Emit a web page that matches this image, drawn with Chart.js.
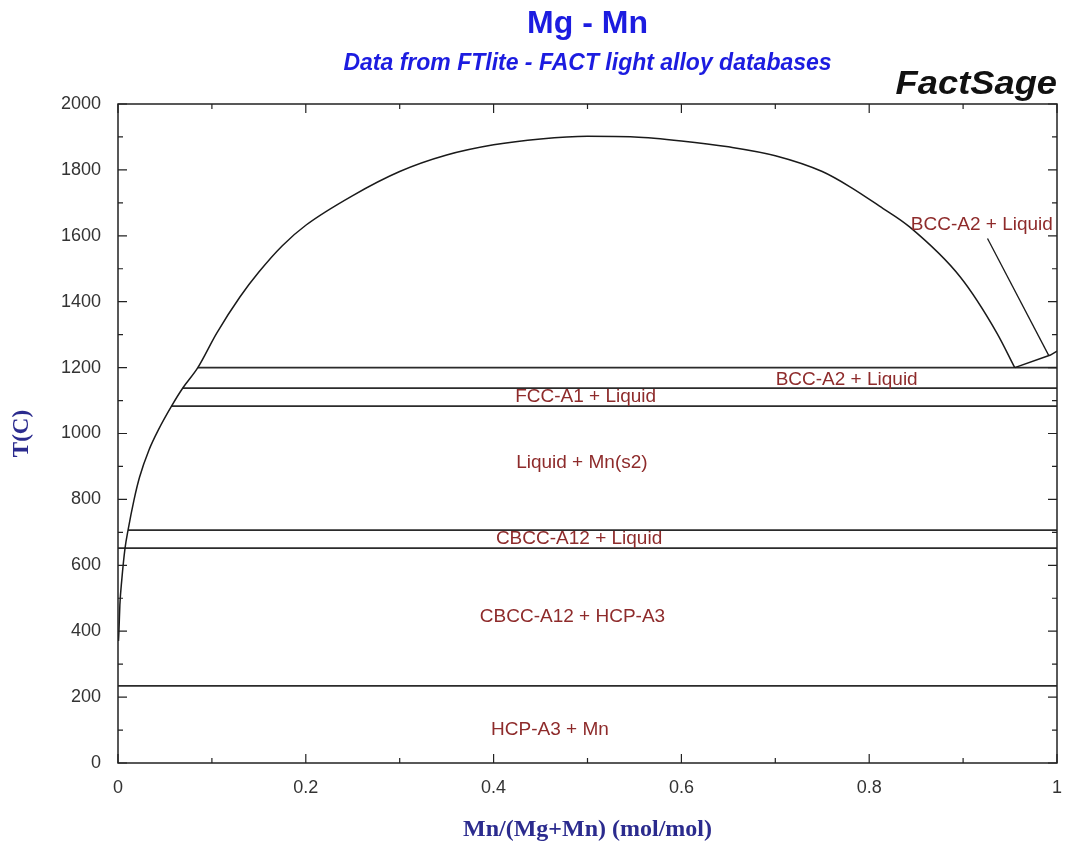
<!DOCTYPE html>
<html>
<head>
<meta charset="utf-8">
<title>Mg - Mn</title>
<script src="https://cdn.jsdelivr.net/npm/chart.js@4.4.1/dist/chart.umd.min.js"></script>
<style>
  html, body { margin: 0; padding: 0; background: #ffffff; }
  #wrap { width: 1068px; height: 845px; position: relative; }
</style>
</head>
<body>
<div id="wrap"><canvas id="diagram"></canvas></div>
<script>
// Mg–Mn phase diagram, composition Mn/(Mg+Mn) against temperature in °C.

// Liquidus on the Mg side running up and over the liquid miscibility dome
const liquidusX = [0.0005, 0.001, 0.002, 0.004, 0.0075, 0.0107, 0.017, 0.023, 0.033, 0.043, 0.057, 0.069, 0.085,
                   0.105, 0.13, 0.15, 0.175, 0.2, 0.25, 0.3, 0.35, 0.4, 0.45, 0.5, 0.55, 0.6, 0.65,
                   0.7, 0.75, 0.78, 0.811, 0.843, 0.897, 0.936, 0.955];
const liquidusT = [370, 400, 480, 555, 652, 707, 798, 868, 950, 1011, 1083, 1138, 1200,
                   1304, 1415, 1490, 1570, 1632, 1722, 1795, 1845, 1876, 1894, 1902, 1900, 1888, 1870,
                   1843, 1795, 1748, 1690, 1627, 1475, 1305, 1200];

// Boundary of the narrow BCC-A2 + Liquid field next to pure Mn
const bccBoundaryX = [0.955, 0.993, 1];
const bccBoundaryT = [1200, 1238, 1250];

// Leader from the upper label down to that narrow field
const leaderX = [0.926, 0.991];
const leaderT = [1592, 1238];

// Invariant (horizontal) reaction lines
const invariantT    = [1200, 1138, 1083, 707, 652, 234];
const invariantFrom = [0.085, 0.069, 0.057, 0.0107, 0, 0];
const invariantTo   = [1, 1, 1, 1, 1, 1];

// Phase-field labels and where they sit (composition, temperature)
const fieldNames = ['BCC-A2 + Liquid', 'BCC-A2 + Liquid', 'FCC-A1 + Liquid', 'Liquid + Mn(s2)',
                    'CBCC-A12 + Liquid', 'CBCC-A12 + HCP-A3', 'HCP-A3 + Mn'];
const fieldX = [0.92, 0.776, 0.498, 0.494, 0.491, 0.484, 0.46];
const fieldT = [1633, 1162, 1112, 910, 680, 444, 100];

// Axis ticks
const xTicks = [0, 0.2, 0.4, 0.6, 0.8, 1];
const xTickLabels = ['0', '0.2', '0.4', '0.6', '0.8', '1'];
const yTicks = [0, 200, 400, 600, 800, 1000, 1200, 1400, 1600, 1800, 2000];
const yTickLabels = ['0', '200', '400', '600', '800', '1000', '1200', '1400', '1600', '1800', '2000'];

const SANS = '"Liberation Sans", Arial, Helvetica, sans-serif';
const SERIF = '"Liberation Serif", "Times New Roman", serif';

function pairs(xs, ys) { return xs.map((x, i) => ({ x: x, y: ys[i] })); }

const lineStyle = { borderColor: '#1a1a1a', borderWidth: 1.5, pointRadius: 0, fill: false };

const datasets = [
  Object.assign({ label: 'liquidus', data: pairs(liquidusX, liquidusT), cubicInterpolationMode: 'monotone' }, lineStyle),
  Object.assign({ label: 'bcc', data: pairs(bccBoundaryX, bccBoundaryT), tension: 0 }, lineStyle),
  Object.assign({ label: 'leader', data: pairs(leaderX, leaderT), tension: 0 }, lineStyle, { borderWidth: 1.3 })
];
invariantT.forEach((t, i) => {
  datasets.push(Object.assign({
    label: 'invariant ' + t,
    data: [{ x: invariantFrom[i], y: t }, { x: invariantTo[i], y: t }],
    tension: 0
  }, lineStyle, { borderColor: '#2b2b2b', borderWidth: 1.8 }));
});

// Frame, inward tick marks, the FactSage mark and field labels
const decorations = {
  id: 'decorations',
  afterDatasetsDraw(chart) {
    const { ctx, chartArea: a, scales: { x, y } } = chart;
    ctx.save();
    ctx.strokeStyle = '#222';
    ctx.lineWidth = 1.5;
    ctx.strokeRect(a.left, a.top, a.right - a.left, a.bottom - a.top);

    ctx.lineWidth = 1.2;
    ctx.beginPath();
    for (let k = 0; k <= 10; k++) {
      const px = x.getPixelForValue(k / 10);
      const len = k % 2 === 0 ? 9 : 5;
      ctx.moveTo(px, a.bottom); ctx.lineTo(px, a.bottom - len);
      ctx.moveTo(px, a.top);    ctx.lineTo(px, a.top + len);
    }
    for (let k = 0; k <= 20; k++) {
      const py = y.getPixelForValue(k * 100);
      const len = k % 2 === 0 ? 9 : 5;
      ctx.moveTo(a.left, py);  ctx.lineTo(a.left + len, py);
      ctx.moveTo(a.right, py); ctx.lineTo(a.right - len, py);
    }
    ctx.stroke();

    ctx.fillStyle = '#8e2b2b';
    ctx.font = '19px ' + SANS;
    ctx.textAlign = 'center';
    ctx.textBaseline = 'middle';
    fieldNames.forEach((name, i) => {
      ctx.fillText(name, x.getPixelForValue(fieldX[i]), y.getPixelForValue(fieldT[i]));
    });

    // Italic wordmark above the top-right corner
    ctx.fillStyle = '#111';
    ctx.font = 'italic bold 33px ' + SANS;
    ctx.textAlign = 'right';
    ctx.textBaseline = 'alphabetic';
    ctx.translate(a.right, a.top - 10);
    ctx.scale(1.1, 1);
    ctx.fillText('FactSage', 0, 0);
    ctx.restore();
  }
};

new Chart(document.getElementById('diagram'), {
  type: 'line',
  data: { datasets: datasets },
  plugins: [decorations],
  options: {
    responsive: true,
    maintainAspectRatio: false,
    animation: false,
    events: [],
    layout: { padding: { left: 0, right: 11, top: 0, bottom: 0 } },
    plugins: {
      legend: { display: false },
      tooltip: { enabled: false },
      title: {
        display: true,
        fullSize: false,
        text: 'Mg - Mn',
        color: '#1c1ce0',
        font: { family: SANS, size: 32, weight: 'bold' },
        padding: { top: 5, bottom: 2 }
      },
      subtitle: {
        display: true,
        fullSize: false,
        text: 'Data from FTlite - FACT light alloy databases',
        color: '#1c1ce0',
        font: { family: SANS, size: 23, weight: 'bold', style: 'italic' },
        padding: { top: 4, bottom: 27 }
      }
    },
    scales: {
      x: {
        type: 'linear',
        min: 0,
        max: 1,
        grid: { display: false, drawTicks: false },
        border: { display: false },
        afterBuildTicks: s => { s.ticks = xTicks.map(v => ({ value: v })); },
        afterFit: s => { s.height = 82; s.paddingLeft = 0; s.paddingRight = 0; },
        ticks: {
          autoSkip: false,
          maxRotation: 0,
          padding: 14,
          color: '#333',
          font: { family: SANS, size: 18 },
          callback: (v, i) => xTickLabels[i]
        },
        title: {
          display: true,
          text: 'Mn/(Mg+Mn) (mol/mol)',
          color: '#2b2b8e',
          font: { family: SERIF, size: 24, weight: 'bold' },
          padding: { top: 0, bottom: 1 }
        }
      },
      y: {
        type: 'linear',
        min: 0,
        max: 2000,
        grid: { display: false, drawTicks: false },
        border: { display: false },
        afterBuildTicks: s => { s.ticks = yTicks.map(v => ({ value: v })); },
        afterFit: s => { s.width = 118; },
        ticks: {
          autoSkip: false,
          padding: 17,
          color: '#333',
          font: { family: SANS, size: 18 },
          callback: (v, i) => yTickLabels[i]
        },
        title: {
          display: true,
          text: 'T(C)',
          color: '#2b2b8e',
          font: { family: SERIF, size: 23, weight: 'bold' },
          padding: { top: 8, bottom: 0 }
        }
      }
    }
  }
});
</script>
</body>
</html>
